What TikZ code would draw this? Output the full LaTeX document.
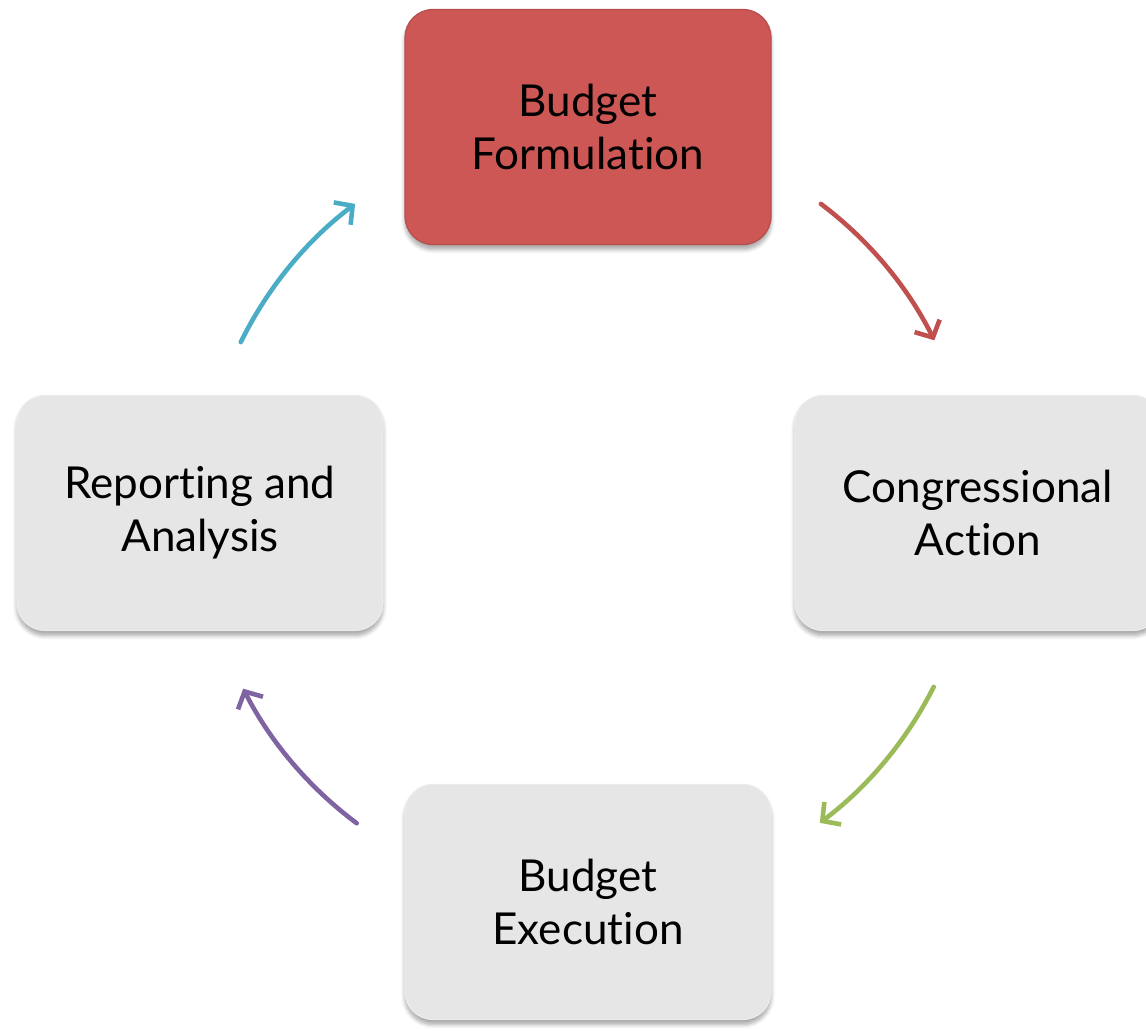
\documentclass[tikz,border=0pt]{standalone}
\usepackage{fontspec}
\setmainfont{Lato}[Ligatures={NoCommon,NoRare}]
\usepackage{tikz}
\usetikzlibrary{arrows.meta,calc,shadows.blur}
\definecolor{boxred}{RGB}{205,87,84}
\definecolor{boxgray}{RGB}{230,230,230}
\definecolor{acred}{RGB}{192,80,77}
\definecolor{acgreen}{RGB}{155,187,89}
\definecolor{acpurple}{RGB}{128,100,162}
\definecolor{acblue}{RGB}{75,172,198}
\tikzset{
	stage/.style={
			rounded corners=14pt, minimum width=183pt, minimum height=117.5pt,
			align=center, font=\fontsize{22}{26.5}\selectfont,
			blur shadow={shadow xshift=0pt, shadow yshift=-2.5pt, shadow blur steps=6, shadow opacity=35}
		},
	graystage/.style={stage, fill=boxgray, draw=white!92!black, line width=0.6pt},
	redstage/.style={stage, fill=boxred, draw=boxred!90!black, line width=0.6pt},
	cyc/.style={line width=2.3pt, line cap=round, -{Straight Barb[length=6.5pt,width=14pt,line width=2.3pt]}}
}

\begin{document}
\begin{tikzpicture}[x=0.5pt,y=0.5pt]
		\useasboundingbox (0,0) rectangle (1146,1031);
		\coordinate (hub) at (588,518);
		\node[redstage] (form) at (588,904) {Budget\\Formulation};
		\node[graystage] (cong) at (978,518) {Congressional\\Action};
		\node[graystage] (exec) at (588,129) {Budget\\Execution};
		\node[graystage] (rep) at (200,518) {Reporting and\\Analysis};
		\draw[cyc,acred] (hub) ++(53:387) arc[start angle=53, end angle=26.5, radius=387];
		\draw[cyc,acgreen] (hub) ++(-26.7:387) arc[start angle=-26.7, end angle=-53.2, radius=387];
		\draw[cyc,acpurple] (hub) ++(-126.7:387) arc[start angle=-126.7, end angle=-153, radius=387];
		\draw[cyc,acblue] (hub) ++(153.8:387) arc[start angle=153.8, end angle=127, radius=387];
	\end{tikzpicture}
\end{document}
